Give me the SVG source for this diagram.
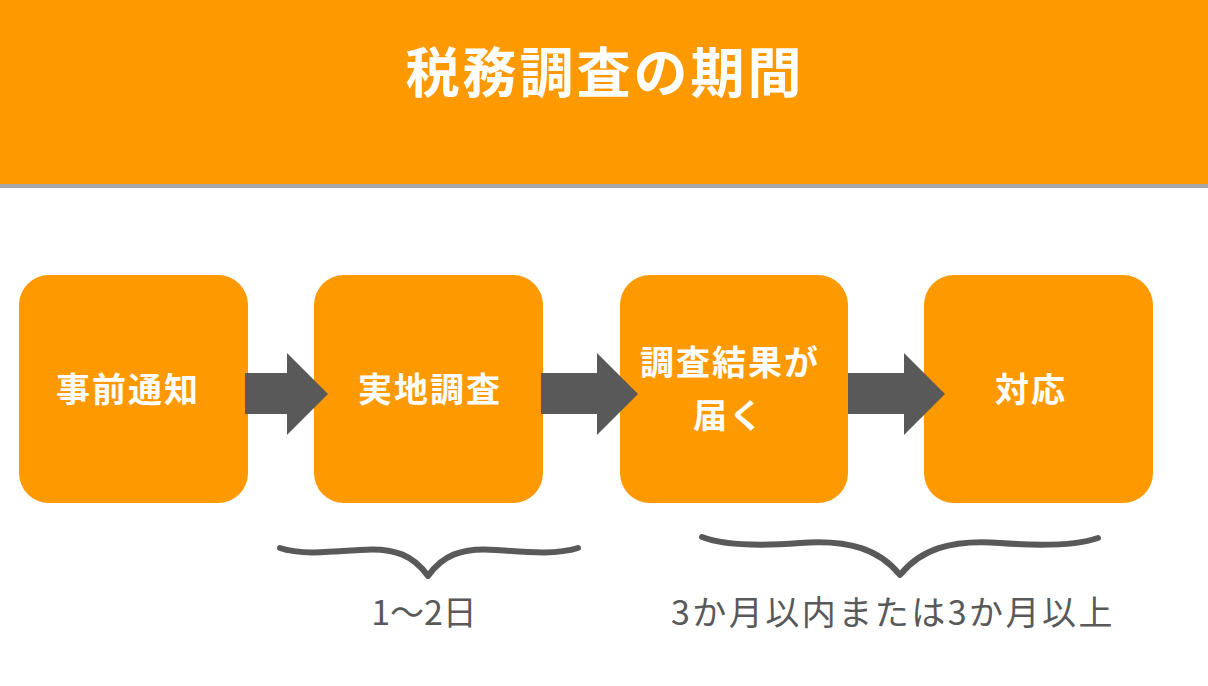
<svg xmlns="http://www.w3.org/2000/svg" width="1208" height="686" viewBox="0 0 1208 686">
  <style>
    .box { fill: #FF9900; }
    .ntext { font-family: "Noto Sans CJK JP", "Noto Sans", sans-serif; font-weight: bold; font-size: 34px; fill: #FFFFFF; text-anchor: middle; letter-spacing: 2px; }
    .title { font-family: "Noto Sans CJK JP", "Noto Sans", sans-serif; font-weight: bold; font-size: 54px; fill: #FFFFFF; text-anchor: middle; letter-spacing: 3px; }
    .label { font-family: "Noto Sans CJK JP", "Noto Sans", sans-serif; font-weight: normal; font-size: 34px; fill: #595959; text-anchor: middle; }
    .arrow { fill: #595959; }
    .brace { fill: none; stroke: #595959; stroke-width: 6; stroke-linecap: round; stroke-linejoin: round; }
  </style>
  <rect x="0" y="0" width="1208" height="686" fill="#FFFFFF"/>
  <g id="header">
    <rect x="0" y="0" width="1208" height="184" fill="#FF9900"/>
    <rect x="0" y="184" width="1208" height="4" fill="#A6A6A6"/>
    <text class="title" x="605" y="93">税務調査の期間</text>
  </g>
  <g id="node-1">
    <rect class="box" x="19" y="275" width="229" height="228" rx="30" ry="30"/>
    <text class="ntext" x="128" y="402">事前通知</text>
  </g>
  <g id="node-2">
    <rect class="box" x="314" y="275" width="229" height="228" rx="30" ry="30"/>
    <text class="ntext" x="430" y="402">実地調査</text>
  </g>
  <g id="node-3">
    <rect class="box" x="620" y="275" width="228" height="228" rx="30" ry="30"/>
    <text class="ntext" x="730" y="375">調査結果が</text>
    <text class="ntext" x="729" y="428">届く</text>
  </g>
  <g id="node-4">
    <rect class="box" x="924" y="275" width="229" height="228" rx="30" ry="30"/>
    <text class="ntext" x="1031" y="402">対応</text>
  </g>
  <g id="connectors">
    <polygon class="arrow" points="245,373 287,373 287,353 328,394 287,435 287,414 245,414"/>
    <polygon class="arrow" points="541,373 597,373 597,353 638,394 597,435 597,414 541,414"/>
    <polygon class="arrow" points="848,373 904,373 904,353 945,394 904,435 904,414 848,414"/>
  </g>
  <g id="brace-1">
    <path class="brace" d="M280,548 C300,555 330,552 360,550 C395,547 414,556 428,576 C442,556 461,547 496,550 C526,552 556,555 578,548"/>
    <text class="label" x="424" y="625">1〜2日</text>
  </g>
  <g id="brace-2">
    <path class="brace" d="M702,537 C725,546 760,546 800,543 C850,539 880,550 900,575 C920,550 950,539 1000,543 C1040,546 1075,546 1098,538"/>
    <text class="label" x="893" y="625" style="letter-spacing:2.5px">3か月以内または3か月以上</text>
  </g>
</svg>
